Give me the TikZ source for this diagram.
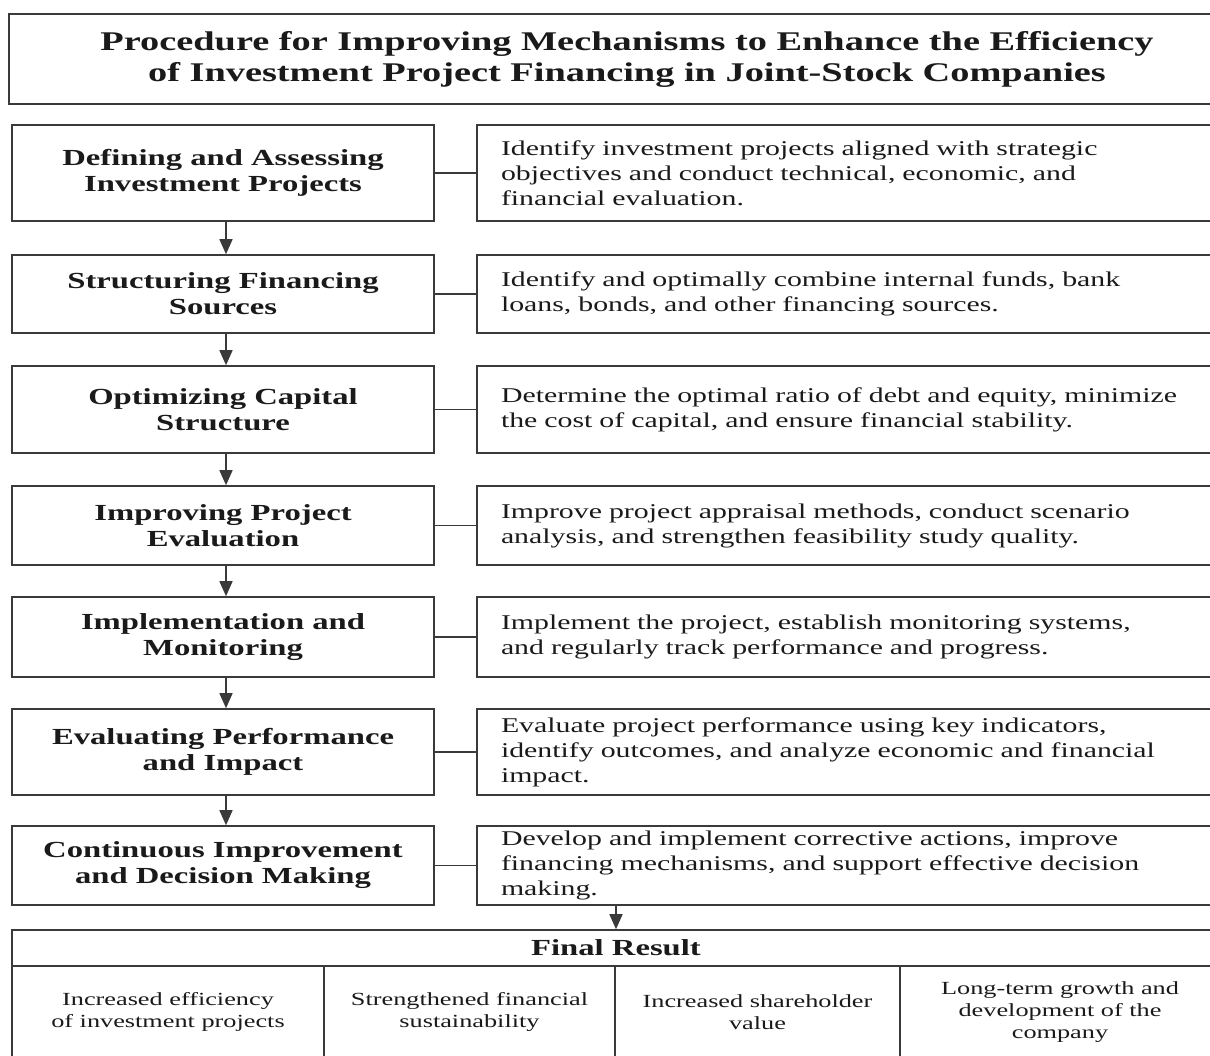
\documentclass[tikz,border=0pt]{standalone}
\usepackage{fontspec}
\setmainfont{Liberation Serif}[FakeStretch=1.42]
\usetikzlibrary{arrows.meta}
\definecolor{linec}{HTML}{3A3A3A}
\definecolor{txt}{HTML}{1A1A1A}
\begin{document}
\begin{tikzpicture}[x=1pt,y=-1pt,
  every node/.style={text=txt},
  boxbase/.style={draw=linec, line width=1.6pt, inner sep=0pt, align=center},
  titlebox/.style={boxbase, minimum width=1236pt, minimum height=90pt, font=\fontsize{27}{31}\selectfont\bfseries},
  lbox/.style={boxbase, minimum width=422pt, font=\fontsize{23}{26}\selectfont\bfseries},
  rbox/.style={boxbase, align=left, text width=720pt, inner xsep=24pt, font=\fontsize{21}{25}\selectfont},
  headbox/.style={boxbase, minimum width=1208pt, minimum height=36pt, font=\fontsize{23}{26}\selectfont\bfseries},
  cellbox/.style={boxbase, minimum height=92pt, font=\fontsize{18.5}{22}\selectfont},
  conn/.style={draw=linec, line width=1.5pt},
  arr/.style={draw=linec, line width=1.5pt, -{Triangle[length=15pt,width=13pt]}}
]
\useasboundingbox (0,0) rectangle (1210,1056);
\fill[white] (0,0) rectangle (1210,1056);
\clip (0,0) rectangle (1210,1056);

\node[titlebox] (title) at (627,59) {Procedure for Improving Mechanisms to Enhance the Efficiency\\of Investment Project Financing in Joint-Stock Companies};

\node[lbox, minimum height=96pt] (l1) at (223,173) {Defining and Assessing\\Investment Projects};
\node[lbox, minimum height=78pt] (l2) at (223,294) {Structuring Financing\\Sources};
\node[lbox, minimum height=87pt] (l3) at (223,409.5) {Optimizing Capital\\Structure};
\node[lbox, minimum height=79pt] (l4) at (223,525.5) {Improving Project\\Evaluation};
\node[lbox, minimum height=80pt] (l5) at (223,637) {Implementation and\\Monitoring};
\node[lbox, minimum height=86pt] (l6) at (223,752) {Evaluating Performance\\and Impact};
\node[lbox, minimum height=79pt] (l7) at (223,865.5) {Continuous Improvement\\and Decision Making};

\node[rbox, minimum height=96pt] (r1) at (861,173) {Identify investment projects aligned with strategic\\objectives and conduct technical, economic, and\\financial evaluation.};
\node[rbox, minimum height=78pt] (r2) at (861,294) {Identify and optimally combine internal funds, bank\\loans, bonds, and other financing sources.};
\node[rbox, minimum height=87pt] (r3) at (861,409.5) {Determine the optimal ratio of debt and equity, minimize\\the cost of capital, and ensure financial stability.};
\node[rbox, minimum height=79pt] (r4) at (861,525.5) {Improve project appraisal methods, conduct scenario\\analysis, and strengthen feasibility study quality.};
\node[rbox, minimum height=80pt] (r5) at (861,637) {Implement the project, establish monitoring systems,\\and regularly track performance and progress.};
\node[rbox, minimum height=86pt] (r6) at (861,752) {Evaluate project performance using key indicators,\\identify outcomes, and analyze economic and financial\\impact.};
\node[rbox, minimum height=79pt] (r7) at (861,865.5) {Develop and implement corrective actions, improve\\financing mechanisms, and support effective decision\\making.};

\node[headbox] (fin) at (616,948) {Final Result};
\node[cellbox, minimum width=312pt] (c1) at (168,1012) {Increased efficiency\\of investment projects};
\node[cellbox, minimum width=291pt] (c2) at (469.5,1012) {Strengthened financial\\sustainability};
\node[cellbox, minimum width=285pt] (c3) at (757.5,1012) {Increased shareholder\\value};
\node[cellbox, minimum width=320pt] (c4) at (1060,1012) {Long-term growth and\\development of the\\company};

\foreach \i/\j in {1/2,2/3,3/4,4/5,5/6,6/7}{
  \draw[arr] ([xshift=3pt]l\i.south) -- ([xshift=3pt]l\j.north);
}
\foreach \i in {1,...,7}{
  \draw[conn] (l\i.east) -- (r\i.west);
}
\draw[arr] (fin.north |- r7.south) -- (fin.north);
\end{tikzpicture}
\end{document}
